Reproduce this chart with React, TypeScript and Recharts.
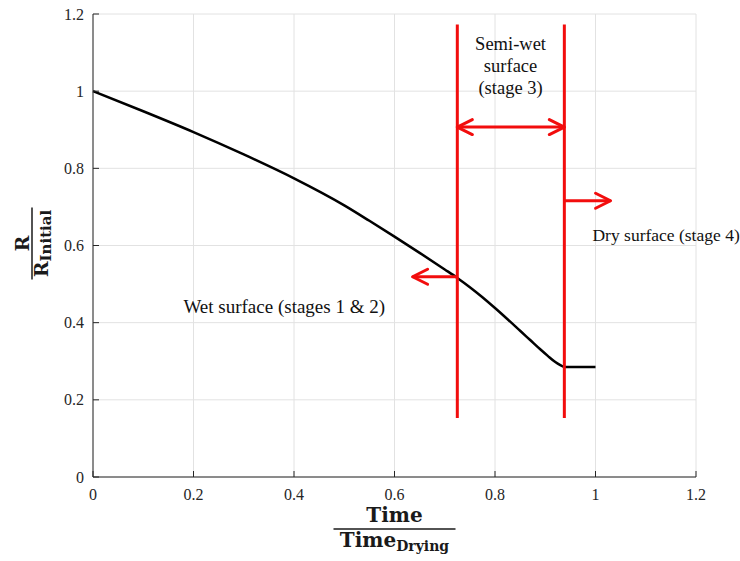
import React from 'react'
import { ComposedChart, Line, XAxis, YAxis, CartesianGrid, ReferenceLine, ReferenceDot, Label } from 'recharts'

// curve: R / R_initial against Time / Time_drying
const timeRatio = [0, 0.1, 0.2, 0.3, 0.4, 0.5, 0.55, 0.6, 0.65, 0.7, 0.725, 0.75, 0.775, 0.8, 0.85, 0.87, 0.89, 0.905, 0.92, 0.93, 0.938, 1.0]
const resistanceRatio = [1.0, 0.948, 0.894, 0.836, 0.774, 0.704, 0.664, 0.623, 0.581, 0.538, 0.516, 0.492, 0.466, 0.438, 0.379, 0.355, 0.331, 0.314, 0.298, 0.29, 0.285, 0.285]

const axisTicks = [0, 0.2, 0.4, 0.6, 0.8, 1, 1.2]

// stage boundaries (red verticals) and their vertical extent
const stageBounds = [0.725, 0.938]
const boundSpan = [0.153, 1.173]

// arrows: [xFrom, xTo, y]
const wetArrow = [0.725, 0.636, 0.519]
const semiWetArrow = [0.725, 0.938, 0.907]
const dryArrow = [0.938, 1.03, 0.716]

const semiWetLines = ['Semi-wet', 'surface', '(stage 3)']
const semiWetPos = [0.831, 1.106]
const dryText = 'Dry surface (stage 4)'
const dryPos = [0.994, 0.612]
const wetText = 'Wet surface (stages 1 & 2)'
const wetPos = [0.18, 0.425]

const data = timeRatio.map((t, i) => ({ t, r: resistanceRatio[i] }))

const RED = '#f20d0d'
const INK = '#262626'
const SERIF = 'Liberation Serif, Times New Roman, serif'
const MATH = 'DejaVu Serif, serif'

function head(tx: number, ty: number, fx: number, fy: number) {
  const len = Math.hypot(tx - fx, ty - fy) || 1
  const ux = (tx - fx) / len
  const uy = (ty - fy) / len
  const bx = tx - ux * 15
  const by = ty - uy * 15
  const nx = -uy * 7.5
  const ny = ux * 7.5
  return `M${bx + nx},${by + ny} L${tx},${ty} L${bx - nx},${by - ny}`
}

const arrowShape = (both: boolean) => (p: any) => {
  const { x1, y1, x2, y2 } = p
  let d = head(x2, y2, x1, y1)
  if (both) d += ' ' + head(x1, y1, x2, y2)
  return (
    <g>
      <line x1={x1} y1={y1} x2={x2} y2={y2} stroke={RED} strokeWidth={3} />
      <path d={d} fill="none" stroke={RED} strokeWidth={3} strokeLinecap="round" strokeLinejoin="round" />
    </g>
  )
}

const BottomTick = (p: any) => {
  const { x, y, payload } = p
  return (
    <g>
      <line x1={x} x2={x} y1={y - 12} y2={y - 18} stroke={INK} />
      <text x={x} y={y + 11} textAnchor="middle" style={{ fontFamily: SERIF, fontSize: 16 }} fill={INK}>
        {String(payload.value)}
      </text>
    </g>
  )
}

const LeftTick = (p: any) => {
  const { x, y, payload } = p
  return (
    <g>
      <line x1={x + 9} x2={x + 15} y1={y} y2={y} stroke={INK} />
      <text x={x} y={y + 5.5} textAnchor="end" style={{ fontFamily: SERIF, fontSize: 16 }} fill={INK}>
        {String(payload.value)}
      </text>
    </g>
  )
}

const XTitle = (p: any) => {
  const vb = p.viewBox || { x: 92, y: 477, width: 603, height: 30 }
  const cx = vb.x + vb.width / 2
  const y0 = vb.y
  return (
    <g style={{ fontFamily: MATH, fontWeight: 'bold' }} fill="#1a1a1a">
      <text x={cx} y={y0 + 45} textAnchor="middle" fontSize={20}>Time</text>
      <line x1={cx - 61} x2={cx + 61} y1={y0 + 52} y2={y0 + 52} stroke="#1a1a1a" strokeWidth={1.5} />
      <text x={cx} y={y0 + 70} textAnchor="middle" fontSize={20}>
        Time<tspan fontSize={14} dy={4}>Drying</tspan>
      </text>
    </g>
  )
}

const YTitle = (p: any) => {
  const vb = p.viewBox || { x: 53, y: 14, width: 40, height: 463 }
  const cx = vb.x - 21
  const cy = vb.y + vb.height / 2 - 2
  return (
    <g transform={`translate(${cx},${cy}) rotate(-90)`} style={{ fontFamily: MATH, fontWeight: 'bold' }} fill="#1a1a1a">
      <text x={0} y={-3} textAnchor="middle" fontSize={19}>R</text>
      <line x1={-36} x2={36} y1={0} y2={0} stroke="#1a1a1a" strokeWidth={1.5} />
      <text x={0} y={16} textAnchor="middle" fontSize={19}>
        R<tspan fontSize={15} dy={3}>Initial</tspan>
      </text>
    </g>
  )
}

const note = (lines: string[], anchor: string, size: number) => (p: any) => (
  <text x={p.cx} y={p.cy} textAnchor={anchor} style={{ fontFamily: SERIF, fontSize: size }} fill="#111">
    {lines.map((s, i) => (
      <tspan key={i} x={p.cx} dy={i === 0 ? 0 : 22}>{s}</tspan>
    ))}
  </text>
)

export default function App() {
  return (
    <div style={{ position: 'absolute', left: 0, top: 0, background: '#fff' }}>
      <ComposedChart width={740} height={561} data={data} margin={{ top: 14, right: 44, bottom: 54, left: 53 }}>
        <CartesianGrid xAxisId="x" yAxisId="y" stroke="#e2e2e2" ticks={axisTicks} />
        <XAxis
          xAxisId="x"
          dataKey="t"
          type="number"
          domain={[0, 1.2]}
          ticks={axisTicks}
          height={30}
          tickSize={0}
          tickMargin={12}
          tickLine={false}
          axisLine={{ stroke: INK }}
          tick={<BottomTick />}
          label={<Label content={<XTitle />} />}
        />
        <XAxis xAxisId="top" orientation="top" type="number" domain={[0, 1.2]} ticks={axisTicks} height={0} mirror tick={false} tickSize={6} axisLine={{ stroke: INK }} tickLine={{ stroke: INK }} />
        <YAxis
          yAxisId="y"
          type="number"
          domain={[0, 1.2]}
          ticks={axisTicks}
          width={40}
          tickSize={0}
          tickMargin={9}
          tickLine={false}
          axisLine={{ stroke: INK }}
          tick={<LeftTick />}
          label={<Label content={<YTitle />} />}
        />
        <YAxis yAxisId="right" orientation="right" type="number" domain={[0, 1.2]} ticks={axisTicks} width={0} mirror tick={false} tickSize={6} axisLine={{ stroke: INK }} tickLine={{ stroke: INK }} />
        <Line
          xAxisId="x"
          yAxisId="y"
          type="monotone"
          dataKey="r"
          stroke="#000"
          strokeWidth={2.5}
          dot={false}
          activeDot={false}
          isAnimationActive={false}
        />
        {stageBounds.map((b) => (
          <ReferenceLine
            key={b}
            xAxisId="x"
            yAxisId="y"
            segment={[{ x: b, y: boundSpan[0] }, { x: b, y: boundSpan[1] }]}
            stroke={RED}
            strokeWidth={3}
          />
        ))}
        <ReferenceLine
          xAxisId="x"
          yAxisId="y"
          segment={[{ x: wetArrow[0], y: wetArrow[2] }, { x: wetArrow[1], y: wetArrow[2] }]}
          shape={arrowShape(false)}
        />
        <ReferenceLine
          xAxisId="x"
          yAxisId="y"
          segment={[{ x: semiWetArrow[0], y: semiWetArrow[2] }, { x: semiWetArrow[1], y: semiWetArrow[2] }]}
          shape={arrowShape(true)}
        />
        <ReferenceLine
          xAxisId="x"
          yAxisId="y"
          segment={[{ x: dryArrow[0], y: dryArrow[2] }, { x: dryArrow[1], y: dryArrow[2] }]}
          shape={arrowShape(false)}
        />
        <ReferenceDot xAxisId="x" yAxisId="y" x={semiWetPos[0]} y={semiWetPos[1]} r={0} shape={note(semiWetLines, 'middle', 18.5)} />
        <ReferenceDot xAxisId="x" yAxisId="y" x={dryPos[0]} y={dryPos[1]} r={0} shape={note([dryText], 'start', 17.5)} />
        <ReferenceDot xAxisId="x" yAxisId="y" x={wetPos[0]} y={wetPos[1]} r={0} shape={note([wetText], 'start', 19)} />
      </ComposedChart>
    </div>
  )
}
